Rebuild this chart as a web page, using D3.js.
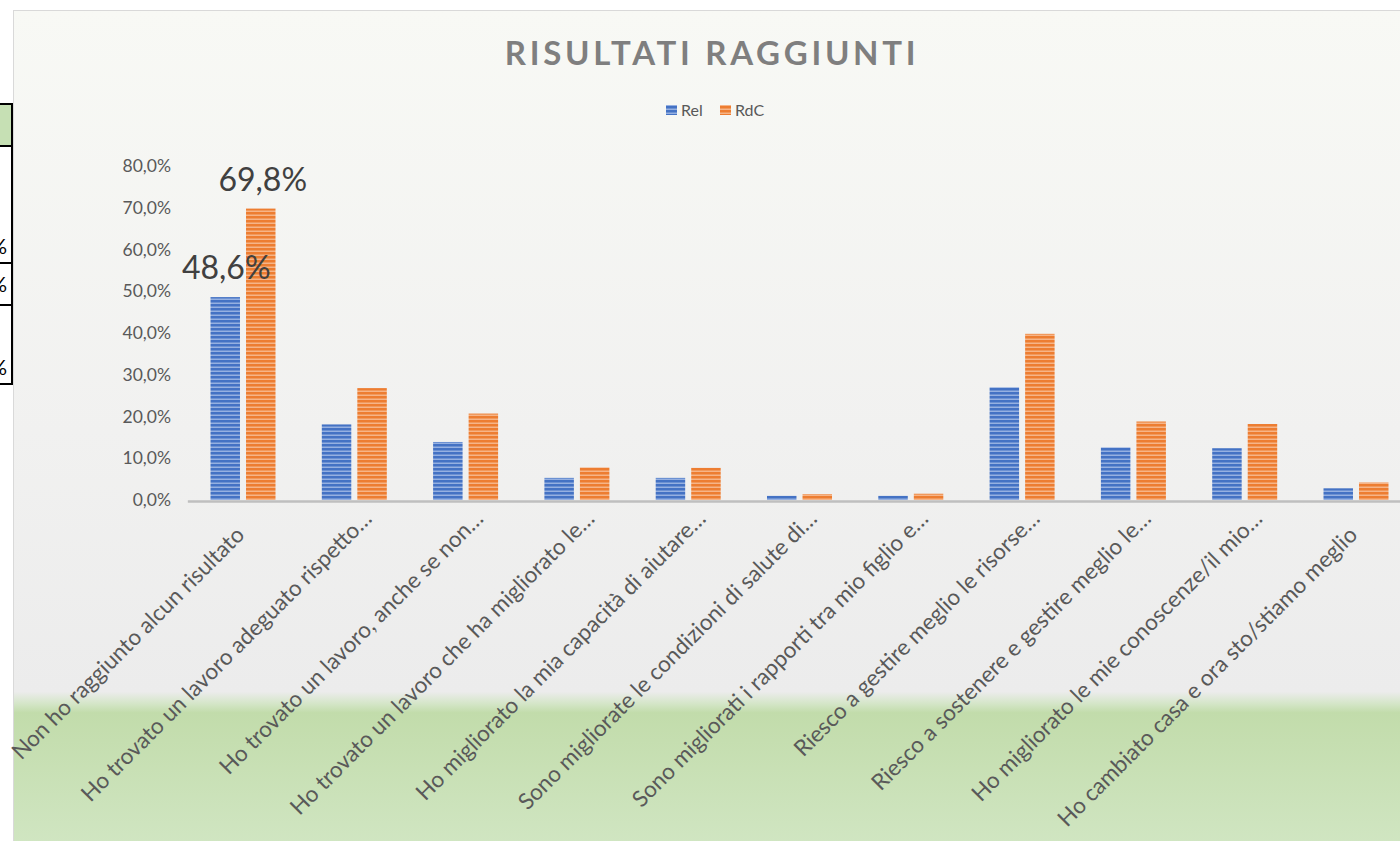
<!DOCTYPE html>
<html>
<head>
<meta charset="utf-8">
<script src="https://cdn.jsdelivr.net/npm/d3@7"></script>
<style>
    body { margin: 0; background: #ffffff; overflow: hidden; }
    svg { display: block; font-family: Lato, "Open Sans", sans-serif; }
</style>
</head>
<body>
<div id="chart"></div>
<script>
// categories (labels as shown on the axis, truncated like the original)
const categories = [
    "Non ho raggiunto alcun risultato    ",
    "Ho trovato un lavoro adeguato rispetto…",
    "Ho trovato un lavoro, anche se non…",
    "Ho trovato un lavoro che ha migliorato le…",
    "Ho migliorato la mia capacità di aiutare…",
    "Sono migliorate le condizioni di salute di…",
    "Sono migliorati i rapporti tra mio figlio e…",
    "Riesco a gestire meglio le risorse…",
    "Riesco a sostenere e gestire meglio le…",
    "Ho migliorato le mie conoscenze/il mio…",
    "Ho cambiato casa e ora sto/stiamo meglio    "
];
const seriesNames = ["Rel", "RdC"];
const relValues = [0.486, 0.181, 0.139, 0.053, 0.053, 0.010, 0.010, 0.270, 0.126, 0.124, 0.028];
const rdcValues = [0.698, 0.268, 0.207, 0.078, 0.077, 0.014, 0.015, 0.398, 0.188, 0.182, 0.042];
const yTicks = [0, 0.1, 0.2, 0.3, 0.4, 0.5, 0.6, 0.7, 0.8];
// only the first category carries data labels
const labelledIndex = [0];

const W = 1400, H = 841;
const margin = {top: 166, left: 187.35, right: -11.65, bottom: 341};
const colors = {Rel: "#4472c4", RdC: "#ed7d31"};
const stripe = {Rel: "#a9bfe9", RdC: "#f9c29c"};

const svg = d3.select("#chart").append("svg")
    .attr("width", W)
    .attr("height", H);

const defs = svg.append("defs");

// background gradient of the chart area: light grey, then green band at bottom
const grad = defs.append("linearGradient")
    .attr("id", "bg").attr("x1", 0).attr("y1", 0).attr("x2", 0).attr("y2", 1);
[[0, "#f8f9f5"], [0.5, "#f1f1f0"], [0.81, "#ececec"], [0.825, "#d3e5c6"], [0.835, "#c2dcab"], [1, "#d1e6c3"]]
    .forEach(s => grad.append("stop").attr("offset", s[0]).attr("stop-color", s[1]));

seriesNames.forEach(k => {
    const p = defs.append("pattern")
        .attr("id", "pat-" + k)
        .attr("patternUnits", "userSpaceOnUse")
        .attr("width", 4).attr("height", 4);
    p.append("rect").attr("width", 4).attr("height", 4).attr("fill", colors[k]);
    p.append("rect").attr("y", 2.6).attr("width", 4).attr("height", 1.2).attr("fill", stripe[k]);
});

// spreadsheet fragment peeking out on the left
const sheet = svg.append("g");
sheet.append("rect").attr("x", 0).attr("y", 104).attr("width", 12).attr("height", 42).attr("fill", "#c6e0b4");
[104, 146, 263, 305, 384].forEach(y => sheet.append("line")
    .attr("x1", 0).attr("x2", 13).attr("y1", y).attr("y2", y)
    .attr("stroke", "#000").attr("stroke-width", 2));
sheet.append("line").attr("x1", 12).attr("x2", 12).attr("y1", 103).attr("y2", 385)
    .attr("stroke", "#000").attr("stroke-width", 2);
[254, 292, 375].forEach(y => sheet.append("text")
    .attr("x", 7).attr("y", y).attr("text-anchor", "end")
    .attr("font-size", 21).attr("fill", "#000").text("%"));

// chart area
svg.append("rect")
    .attr("x", 13.5).attr("y", 10.5)
    .attr("width", W).attr("height", H)
    .attr("fill", "url(#bg)")
    .attr("stroke", "#d9d9d9").attr("stroke-width", 1);

svg.append("text")
    .attr("x", 712).attr("y", 65)
    .attr("text-anchor", "middle")
    .attr("font-size", 33).attr("font-weight", 700)
    .attr("letter-spacing", 3.7)
    .attr("fill", "#7f7f7f")
    .text("RISULTATI RAGGIUNTI");

// legend
const legend = svg.append("g").attr("transform", "translate(666,110)");
const legendX = [0, 54];
seriesNames.forEach((k, i) => {
    const g = legend.append("g").attr("transform", `translate(${legendX[i]},0)`);
    g.append("rect").attr("x", 0).attr("y", -5).attr("width", 11).attr("height", 10)
        .attr("fill", `url(#pat-${k})`);
    g.append("text").attr("x", 15).attr("y", 5.5)
        .attr("font-size", 16).attr("fill", "#595959").text(k);
});

const x = d3.scaleBand()
    .domain(categories)
    .range([margin.left, W - margin.right])
    .padding(0);

const xSeries = d3.scaleBand()
    .domain(seriesNames)
    .range([-32.5, 32.5])
    .paddingInner(0.17);

const y = d3.scaleLinear()
    .domain([0, 0.8])
    .range([H - margin.bottom, margin.top]);

const fmt = v => d3.format(".1f")(v * 100).replace(".", ",") + "%";

// y axis labels (no axis line / gridlines in the original)
const yAxis = svg.append("g")
    .attr("transform", "translate(171,0)")
    .call(d3.axisLeft(y).tickValues(yTicks).tickFormat(fmt).tickSize(0).tickPadding(0));
yAxis.select(".domain").remove();
yAxis.selectAll("text")
    .attr("font-family", "Lato, 'Open Sans', sans-serif")
    .attr("font-size", 17.5)
    .attr("fill", "#595959");

const series = seriesNames.map((k, si) => ({
    key: k,
    values: (si === 0 ? relValues : rdcValues)
}));

const groups = svg.append("g").selectAll("g.series")
    .data(series)
    .join("g")
    .attr("class", "series")
    .attr("fill", d => `url(#pat-${d.key})`);

groups.selectAll("rect")
    .data(d => d.values.map((v, i) => ({key: d.key, cat: categories[i], v})))
    .join("rect")
    .attr("x", d => x(d.cat) + x.bandwidth() / 2 + xSeries(d.key))
    .attr("width", xSeries.bandwidth())
    .attr("y", d => y(d.v))
    .attr("height", d => y(0) - y(d.v));

// x axis line
const xAxis = svg.append("g")
    .attr("transform", `translate(0,${y(0) + 1})`)
    .call(d3.axisBottom(x).tickSize(0).tickPadding(0));
xAxis.select(".domain")
    .attr("stroke", "#bfbfbf").attr("stroke-width", 2.5);
xAxis.selectAll(".tick text")
    .attr("font-family", "Lato, sans-serif")
    .attr("font-size", 22.5)
    .attr("fill", "#595959")
    .attr("text-anchor", "end")
    .attr("dy", 0)
    .attr("y", 0)
    .style("white-space", "pre")
    .attr("transform", "translate(19,19) rotate(-45)");

// data labels for the first category
const labels = svg.append("g");
series.forEach(s => {
    labelledIndex.forEach(i => {
        const cx = x(categories[i]) + x.bandwidth() / 2 + xSeries(s.key) + xSeries.bandwidth() / 2;
        labels.append("text")
            .attr("x", s.key === "Rel" ? cx + 1 : cx + 2)
            .attr("y", y(s.values[i]) - 18)
            .attr("text-anchor", "middle")
            .attr("font-size", 32)
            .attr("fill", "#404040")
            .text(fmt(s.values[i]));
    });
});
</script>
</body>
</html>
